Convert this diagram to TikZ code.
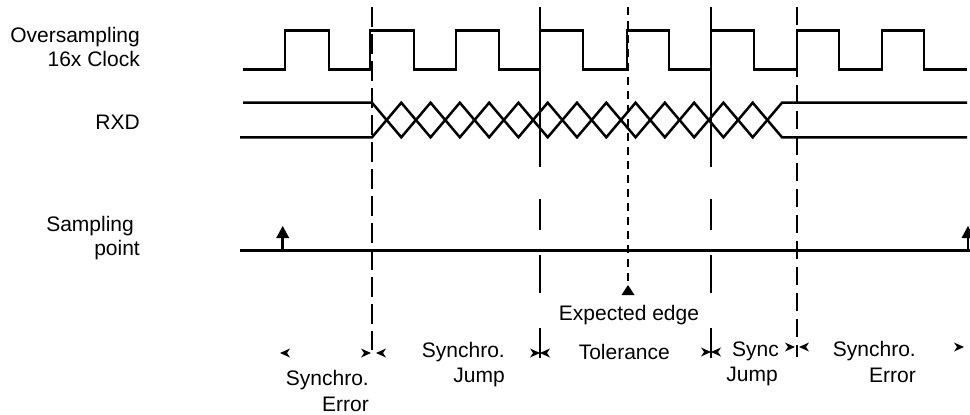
\documentclass[tikz,border=0pt]{standalone}
\usepackage{fontspec}
\setmainfont{Liberation Sans}
\usetikzlibrary{arrows.meta}
\begin{document}
\begin{tikzpicture}[x=1pt,y=-1pt,
  lbl/.style={inner sep=0pt, font=\fontsize{21}{25}\selectfont},
  sig/.style={line width=2.5pt, line join=miter},
  vguide/.style={line width=1.2pt},
  stem/.style={line width=2.6pt},
  uptip/.pic={\fill (0,0) -- (-6.5,12) -- (6.5,12) -- cycle;},
  rtip/.pic={\fill (0,0) -- (-10,-4.5) -- (-7,0) -- (-10,4.5) -- cycle;},
  ltip/.pic={\fill (0,0) -- (10,-4.5) -- (7,0) -- (10,4.5) -- cycle;},
]
\useasboundingbox (0,0) rectangle (970,415);

% clock
\draw[sig] (243,69.3) -- (285,69.3) -- (285,30.7) -- (329,30.7) -- (329,69.3)
  -- (370,69.3) -- (370,30.7) -- (414,30.7) -- (414,69.3)
  -- (456,69.3) -- (456,30.7) -- (499,30.7) -- (499,69.3)
  -- (540,69.3) -- (540,30.7) -- (583,30.7) -- (583,69.3)
  -- (627,69.3) -- (627,30.7) -- (669,30.7) -- (669,69.3)
  -- (711,69.3) -- (711,30.7) -- (754,30.7) -- (754,69.3)
  -- (797,69.3) -- (797,30.7) -- (839,30.7) -- (839,69.3)
  -- (882,69.3) -- (882,30.7) -- (924,30.7) -- (924,69.3) -- (967,69.3);

% RXD
\draw[sig] (243,102.7) -- (372,102.7) -- (401.29,137.3) -- (430.57,102.7) -- (459.86,137.3)
  -- (489.14,102.7) -- (518.43,137.3) -- (547.71,102.7) -- (577,137.3) -- (606.29,102.7)
  -- (635.57,137.3) -- (664.86,102.7) -- (694.14,137.3) -- (723.43,102.7) -- (752.71,137.3)
  -- (782,102.7) -- (967,102.7);
\draw[sig] (240,137.3) -- (372,137.3) -- (401.29,102.7) -- (430.57,137.3) -- (459.86,102.7)
  -- (489.14,137.3) -- (518.43,102.7) -- (547.71,137.3) -- (577,102.7) -- (606.29,137.3)
  -- (635.57,102.7) -- (664.86,137.3) -- (694.14,102.7) -- (723.43,137.3) -- (752.71,102.7)
  -- (782,137.3) -- (967,137.3);

% sampling
\draw[line width=3pt] (240,250) -- (970,250);
\draw[stem] (282.7,251) -- (282.7,236);
\pic at (282.7,226) {uptip};
\draw[stem] (968,251) -- (968,236);
\pic at (968,226) {uptip};

% vertical guides
\draw[vguide, dash pattern=on 20pt off 7pt] (372,7) -- (372,350);
\draw[vguide] (540,7) -- (540,167) (540,199) -- (540,230) (540,255) -- (540,293) (540,328) -- (540,358);
\draw[vguide] (711,7) -- (711,167) (711,199) -- (711,230) (711,255) -- (711,293) (711,328) -- (711,358);
\draw[vguide, dash pattern=on 8pt off 6pt] (628,7) -- (628,285);
\fill (628,285) -- (621.5,295) -- (634.5,295) -- cycle;
\draw[vguide, dash pattern=on 18pt off 8pt] (797,7) -- (797,357);

% dimension tips
\pic at (280,353) {ltip};
\pic at (371,353) {rtip};
\pic at (376,353) {ltip};
\pic at (540,353) {rtip};
\pic at (540,353) {ltip};
\pic at (711,352) {rtip};
\pic at (711,352) {ltip};
\pic at (795,347) {rtip};
\pic at (799,347) {ltip};
\pic at (964,347) {rtip};

% labels
\node[lbl, anchor=base east] (osc1) at (140,42) {Oversampling};
\node[lbl, anchor=base east] (osc2) at (140,66) {16x Clock};
\node[lbl, anchor=base east] (rxd) at (140,129) {RXD};
\node[lbl, anchor=base east] (sp1) at (134,231) {Sampling};
\node[lbl, anchor=base east] (sp2) at (140,255) {point};
\node[lbl, anchor=base] (exp) at (629,320) {Expected edge};
\node[lbl, anchor=base east] (tol) at (670,359) {Tolerance};
\node[lbl, anchor=base east] (se1a) at (369,385) {Synchro.};
\node[lbl, anchor=base east] (se1b) at (369,411) {Error};
\node[lbl, anchor=base east] (sj1) at (505,357) {Synchro.};
\node[lbl, anchor=base east] (sj2) at (505,382) {Jump};
\node[lbl, anchor=base east] (sy1) at (779,356) {Sync};
\node[lbl, anchor=base east] (sy2) at (778,381) {Jump};
\node[lbl, anchor=base east] (se2a) at (916,356) {Synchro.};
\node[lbl, anchor=base east] (se2b) at (916,382) {Error};
\end{tikzpicture}
\end{document}
